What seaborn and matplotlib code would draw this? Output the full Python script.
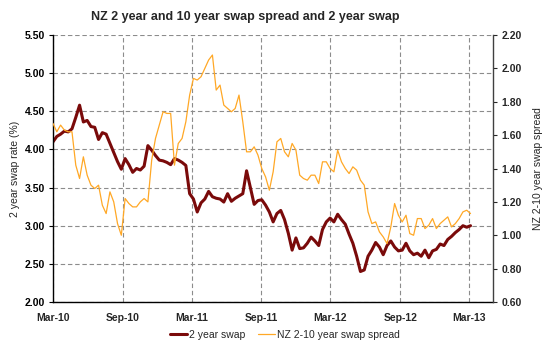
import matplotlib
matplotlib.use("Agg")
import matplotlib.pyplot as plt
import seaborn as sns
import pandas as pd

# ---- data (~10-day sampling) ----
start_date = "2010-03-01"
step = "10D"
swap_2y = [4.10, 4.17, 4.20, 4.24, 4.23, 4.27, 4.42, 4.58, 4.36, 4.38,
           4.30, 4.29, 4.13, 4.22, 4.20, 4.08, 3.96, 3.84, 3.74, 3.88,
           3.80, 3.70, 3.75, 3.73, 3.78, 4.05, 3.99, 3.92, 3.86, 3.85,
           3.83, 3.80, 3.88, 3.86, 3.83, 3.79, 3.42, 3.35, 3.18, 3.30,
           3.35, 3.45, 3.38, 3.36, 3.35, 3.31, 3.42, 3.32, 3.36, 3.39,
           3.42, 3.72, 3.50, 3.28, 3.33, 3.34, 3.27, 3.18, 3.05, 3.16,
           3.20, 3.08, 2.90, 2.68, 2.84, 2.70, 2.71, 2.77, 2.85, 2.80,
           2.74, 2.95, 3.05, 3.10, 3.05, 3.15, 3.08, 3.02, 2.89, 2.77,
           2.60, 2.40, 2.42, 2.60, 2.68, 2.78, 2.72, 2.62, 2.74, 2.80,
           2.72, 2.67, 2.68, 2.77, 2.67, 2.62, 2.64, 2.60, 2.68, 2.58,
           2.67, 2.69, 2.76, 2.74, 2.82, 2.86, 2.91, 2.95, 3.00, 2.98,
           3.00]
spread_2_10 = [1.67, 1.62, 1.66, 1.63, 1.62, 1.62, 1.42, 1.34, 1.47, 1.36,
               1.30, 1.28, 1.30, 1.18, 1.13, 1.26, 1.20, 1.07, 1.00, 1.22,
               1.19, 1.17, 1.17, 1.20, 1.22, 1.20, 1.45, 1.58, 1.66, 1.74,
               1.73, 1.73, 1.42, 1.55, 1.58, 1.68, 1.84, 1.94, 1.93, 1.95,
               2.00, 2.05, 2.08, 1.87, 1.90, 1.78, 1.76, 1.74, 1.76, 1.84,
               1.68, 1.50, 1.50, 1.53, 1.48, 1.40, 1.35, 1.27, 1.38, 1.56,
               1.58, 1.50, 1.47, 1.55, 1.51, 1.36, 1.34, 1.33, 1.36, 1.36,
               1.31, 1.44, 1.44, 1.40, 1.38, 1.51, 1.44, 1.40, 1.37, 1.41,
               1.39, 1.33, 1.30, 1.14, 1.07, 1.08, 1.02, 0.99, 0.95, 1.05,
               1.19, 1.12, 1.08, 1.12, 1.01, 1.00, 1.10, 1.10, 1.04, 1.06,
               1.10, 1.04, 1.07, 1.09, 1.11, 1.05, 1.07, 1.10, 1.14, 1.15,
               1.13]
x_tick_labels = ["Mar-10", "Sep-10", "Mar-11", "Sep-11", "Mar-12", "Sep-12", "Mar-13"]
x_tick_dates = ["2010-03-01", "2010-09-01", "2011-03-01", "2011-09-01",
                "2012-03-01", "2012-09-01", "2013-03-01"]
left_ticks = [2.0, 2.5, 3.0, 3.5, 4.0, 4.5, 5.0, 5.5]
right_ticks = [0.6, 0.8, 1.0, 1.2, 1.4, 1.6, 1.8, 2.0, 2.2]

dates = pd.date_range(start_date, periods=len(swap_2y), freq=step)
df = pd.DataFrame({"date": dates, "swap": swap_2y, "spread": spread_2_10})

sns.set_style("white")
plt.rcParams["font.family"] = ["Liberation Sans", "DejaVu Sans"]

BROWN = "#7a0a0a"
ORANGE = "#ffa826"
GRID = "#8c8c8c"

fig = plt.figure(figsize=(5.5, 3.48), dpi=100)
ax = fig.add_axes([53 / 550, 1 - 302 / 348, (493.3 - 53) / 550, (302 - 35) / 348])
ax2 = ax.twinx()

sns.lineplot(data=df, x="date", y="swap", ax=ax, color=BROWN, linewidth=2.2,
             label="2 year swap", legend=False)
sns.lineplot(data=df, x="date", y="spread", ax=ax2, color=ORANGE, linewidth=0.9,
             label="NZ 2-10 year swap spread", legend=False)

xmin = pd.Timestamp("2010-03-01")
xmax = pd.Timestamp("2013-05-04")
ax.set_xlim(xmin, xmax)
ax.set_ylim(2.0, 5.5)
ax2.set_ylim(0.6, 2.2)

ax.set_xticks(pd.to_datetime(x_tick_dates))
ax.set_xticklabels(x_tick_labels, fontsize=7.5, fontweight="bold")
ax.set_yticks(left_ticks)
ax.set_yticklabels([f"{v:.2f}" for v in left_ticks], fontsize=7.5, fontweight="bold")
ax2.set_yticks(right_ticks)
ax2.set_yticklabels([f"{v:.2f}" for v in right_ticks], fontsize=7.5, fontweight="bold")

ax.grid(True, color=GRID, linestyle=(0, (4, 2.5)), linewidth=0.8)
ax.set_axisbelow(True)

for a in (ax, ax2):
    a.spines["top"].set_visible(False)
ax.spines["left"].set_color("#000000")
ax.spines["bottom"].set_color("#000000")
ax.spines["right"].set_visible(False)
ax2.spines["left"].set_visible(False)
ax2.spines["bottom"].set_visible(False)
ax2.spines["right"].set_color("#404040")
for a in (ax, ax2):
    for s in a.spines.values():
        s.set_linewidth(1.0)

ax.tick_params(axis="y", which="both", length=3, width=0.8, pad=3, colors="#000000", left=True)
ax.tick_params(axis="x", which="both", length=0, pad=8)
ax2.tick_params(axis="y", which="both", length=3, width=0.8, pad=3, right=True)

ax.set_xlabel("")
ax.set_ylabel("2 year swap rate (%)", fontsize=7.5, labelpad=3)
ax2.set_ylabel("NZ 2-10 year swap spread", fontsize=7.5, labelpad=8)

fig.suptitle("NZ 2 year and 10 year swap spread and 2 year swap",
             x=245 / 550, y=1 - 17 / 348, va="center", fontsize=9, fontweight="bold")

h1, l1 = ax.get_legend_handles_labels()
h2, l2 = ax2.get_legend_handles_labels()
fig.legend(h1 + h2, l1 + l2, loc="center", bbox_to_anchor=(285 / 550, 1 - 335 / 348),
           ncol=2, frameon=False, fontsize=7.5, handlelength=1.6, handletextpad=0.2,
           columnspacing=1.2)

fig.savefig("out.png", dpi=100)
